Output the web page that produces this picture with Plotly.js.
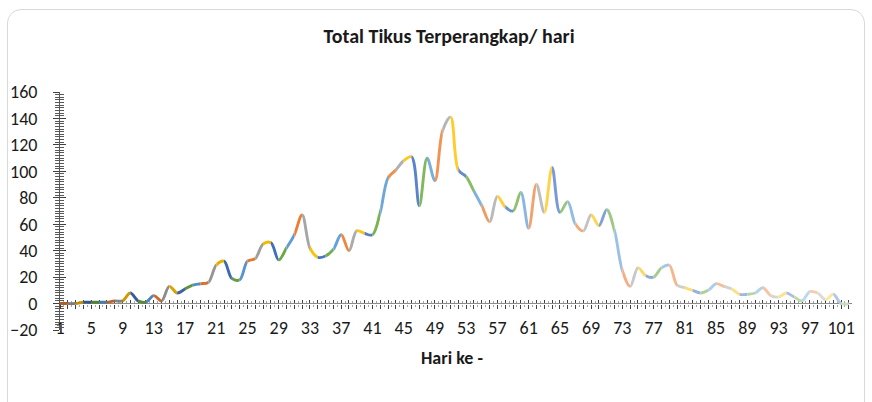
<!DOCTYPE html>
<html><head><meta charset="utf-8">
<script src="https://cdn.plot.ly/plotly-3.0.1.min.js"></script>
<style>
html,body{margin:0;padding:0;background:#fff;}
#wrap{position:relative;width:872px;height:402px;overflow:hidden;}
#chart{width:872px;height:402px;}
#frame{position:absolute;left:7px;top:9px;width:856px;height:430px;border:1px solid #d9d9d9;border-radius:14px;pointer-events:none;}
</style></head><body>
<div id="wrap"><div id="chart"></div><div id="frame"></div></div>
<script>
// ---- data ----
const chartTitle = 'Total Tikus Terperangkap/ hari';
const xAxisTitle = 'Hari ke -';
const tikus = [
  0, 0, 0, 1, 1, 1, 1, 2, 2, 8,
  2, 1, 6, 2, 13, 8, 11, 14, 15, 16,
  29, 32, 19, 18, 32, 34, 45, 46, 33, 42,
  52, 67, 42, 35, 36, 41, 52, 40, 55, 53,
  52, 69, 95, 101, 108, 111, 74, 110, 93, 131,
  141, 101, 96, 85, 74, 62, 81, 73, 70, 84,
  57, 90, 69, 103, 69, 77, 60, 55, 67, 59,
  71, 55, 25, 13, 27, 21, 20, 27, 29, 14,
  12, 10, 8, 10, 15, 13, 11, 7, 7, 8,
  12, 6, 5, 8, 5, 2, 9, 8, 3, 7,
  0, 0
];
const days = tikus.map((_, i) => i + 1);          // category: Hari ke-1 ... ke-102
const xTickDays = [1,5,9,13,17,21,25,29,33,37,41,45,49,53,57,61,65,69,73,77,81,85,89,93,97,101];
const yTickVals = [-20,0,20,40,60,80,100,120,140,160];

// ---- styling ----
const palette = ['#5B9BD5','#ED7D31','#A5A5A5','#FFC000','#4472C4','#70AD47'];
function adjust(hex, t) {
  const n = parseInt(hex.slice(1), 16);
  let c = [(n >> 16) & 255, (n >> 8) & 255, n & 255];
  c = c.map(v => t < 0 ? v * (1 + t) : v + (255 - v) * t);
  return 'rgb(' + c.map(v => Math.round(v)).join(',') + ')';
}
function pointColor(p) {           // Excel "vary colours by point"
  const cycles = Math.ceil(days.length / 6) - 1;
  const c = Math.floor((p - 1) / 6);
  return adjust(palette[(p - 1) % 6], -0.25 + c * 0.85 / cycles);
}

const X0 = 1, X1 = 102.4, SPAN = X1 - X0;
const YR = [-20, 160];
const zeroPos = (0 - YR[0]) / (YR[1] - YR[0]);
const font = 'Carlito, Calibri, Lato, sans-serif';

const traces = [];
const layout = {
  width: 872, height: 402,
  margin: {l: 60, r: 20, t: 92, b: 72, pad: 0},
  paper_bgcolor: '#ffffff', plot_bgcolor: 'rgba(0,0,0,0)',
  showlegend: false,
  font: {family: font, size: 18, color: '#1a1a1a'},
  title: {text: '<b>' + chartTitle + '</b>', x: 0.515, xanchor: 'center', y: 0.91, yanchor: 'middle',
          font: {family: font, size: 20, color: '#1a1a1a'}},
  xaxis: {range: [X0, X1], anchor: 'free', position: 0.062, tickmode: 'array', tickvals: xTickDays,
          ticktext: xTickDays.map(String), ticks: '', showline: false, showgrid: false, zeroline: false,
          tickfont: {family: font, size: 18, color: '#1a1a1a'}, fixedrange: true},
  yaxis: {range: YR, anchor: 'x', tickmode: 'array', tickvals: yTickVals, ticks: 'outside', ticklen: 6,
          tickcolor: '#404040', showline: true, linecolor: '#595959', linewidth: 1, showgrid: false,
          zeroline: true, zerolinecolor: '#8c8c8c', zerolinewidth: 1, ticklabelstandoff: 12,
          minor: {dtick: 2, ticks: 'outside', ticklen: 4, tickcolor: '#595959', showgrid: false},
          tickfont: {family: font, size: 18, color: '#1a1a1a'}, fixedrange: true},
  yaxis2: {range: YR, overlaying: 'y', anchor: 'x', side: 'left', ticks: 'inside', ticklen: 6,
           tickmode: 'array', tickvals: yTickVals, tickcolor: '#404040', showticklabels: false,
           showline: false, showgrid: false, zeroline: false,
           minor: {dtick: 2, ticks: 'inside', ticklen: 4, tickcolor: '#595959', showgrid: false}, fixedrange: true},
  xaxis103: {range: [X0, X1], overlaying: 'x', anchor: 'free', position: zeroPos, ticks: 'outside', ticklen: 4,
             tick0: 1, dtick: 1, tickcolor: '#404040', showticklabels: false, showline: false, showgrid: false,
             zeroline: false, minor: {dtick: 0.5, ticks: 'outside', ticklen: 2.5, tickcolor: '#a6a6a6', showgrid: false}, fixedrange: true},
  xaxis104: {range: [X0, X1], overlaying: 'x', anchor: 'free', position: zeroPos, ticks: 'inside', ticklen: 4,
             tick0: 1, dtick: 1, tickcolor: '#404040', showticklabels: false, showline: false, showgrid: false,
             zeroline: false, minor: {dtick: 0.5, ticks: 'inside', ticklen: 2.5, tickcolor: '#a6a6a6', showgrid: false}, fixedrange: true},
  annotations: [{text: '<b>' + xAxisTitle + '</b>', xref: 'paper', yref: 'paper',
                 x: (452 - 60) / 792, y: (330 - 358) / 238, xanchor: 'center', yanchor: 'middle',
                 showarrow: false, font: {family: font, size: 18, color: '#1a1a1a'}}]
};

// empty traces so every helper axis belongs to a subplot
traces.push({type: 'scatter', x: [], y: [], xaxis: 'x', yaxis: 'y', hoverinfo: 'skip'});
traces.push({type: 'scatter', x: [], y: [], xaxis: 'x', yaxis: 'y2', hoverinfo: 'skip'});
traces.push({type: 'scatter', x: [], y: [], xaxis: 'x103', yaxis: 'y', hoverinfo: 'skip'});
traces.push({type: 'scatter', x: [], y: [], xaxis: 'x104', yaxis: 'y', hoverinfo: 'skip'});

// one smoothed segment per point, each clipped to its own x window
for (let p = 2; p <= days.length; p++) {
  const i = p - 1;
  const lo = Math.max(0, i - 2), hi = Math.min(days.length - 1, i + 1);
  const ax = 'x' + p;
  traces.push({
    type: 'scatter', mode: 'lines', xaxis: ax, yaxis: 'y',
    x: days.slice(lo, hi + 1), y: tikus.slice(lo, hi + 1),
    line: {shape: 'spline', smoothing: 1, color: pointColor(p), width: 2.9},
    hoverinfo: 'skip', showlegend: false
  });
  layout['xaxis' + p] = {
    domain: [(days[i - 1] - X0) / SPAN, (days[i] - X0) / SPAN],
    range: [days[i - 1], days[i]], anchor: 'y', visible: false, fixedrange: true
  };
}

Plotly.newPlot('chart', traces, layout, {displayModeBar: false, staticPlot: true});
</script>
</body></html>
